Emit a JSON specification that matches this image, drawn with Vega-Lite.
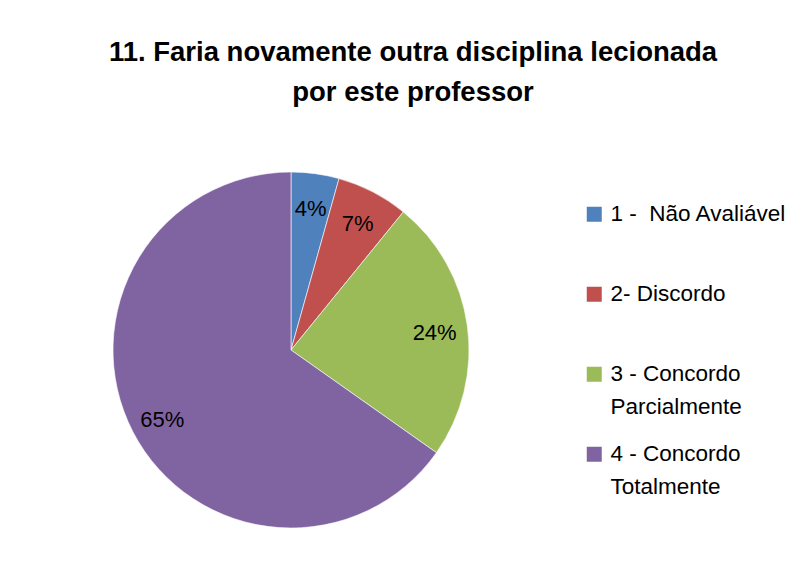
{
  "$schema": "https://vega.github.io/schema/vega-lite/v6.json",
  "autosize": "none",
  "width": 356,
  "height": 356,
  "padding": {"left": 113, "top": 172, "right": 338, "bottom": 52},
  "background": "white",
  "config": {
    "style": {"guide-label": {"lineHeight": 33}}
  },
  "title": {
    "text": ["11. Faria novamente outra disciplina lecionada", "por este professor"],
    "font": "Liberation Sans",
    "fontSize": 27.5,
    "fontWeight": "bold",
    "color": "#000000",
    "anchor": "middle",
    "dx": 122,
    "offset": 64,
    "lineHeight": 40
  },
  "data": {
    "values": [
      {"cat": "1 -\u00a0 Não Avaliável", "n": 2, "label": "4%"},
      {"cat": "2- Discordo", "n": 3, "label": "7%"},
      {"cat": "3 - Concordo|Parcialmente", "n": 11, "label": "24%"},
      {"cat": "4 - Concordo|Totalmente", "n": 30, "label": "65%"}
    ]
  },
  "encoding": {
    "theta": {"field": "n", "type": "quantitative", "stack": true},
    "order": {"field": "cat", "type": "nominal", "sort": "ascending"}
  },
  "layer": [
    {
      "mark": {"type": "arc", "outerRadius": 178, "stroke": "#ffffff", "strokeWidth": 0.6},
      "encoding": {
        "color": {
          "field": "cat",
          "type": "nominal",
          "scale": {
            "domain": ["1 -\u00a0 Não Avaliável", "2- Discordo", "3 - Concordo|Parcialmente", "4 - Concordo|Totalmente"],
            "range": ["#4F81BD", "#C0504D", "#9BBB59", "#8064A2"]
          },
          "legend": {
            "title": null,
            "orient": "none",
            "legendX": 470,
            "legendY": 31,
            "padding": 0,
            "direction": "vertical",
            "gridAlign": "all",
            "symbolType": "square",
            "symbolSize": 225,
            "symbolStrokeWidth": 0,
            "labelFont": "Liberation Sans",
            "labelFontSize": 22.5,
            "labelColor": "#000000",
            "labelLimit": 300,
            "labelOffset": 5,
            "labelExpr": "split(datum.label, '|')",
            "rowPadding": 24
          }
        }
      }
    },
    {
      "mark": {"type": "text", "radius": 145, "dy": 3, "font": "Liberation Sans", "fontSize": 22, "color": "#000000"},
      "encoding": {
        "text": {"field": "label", "type": "nominal"}
      }
    }
  ]
}
